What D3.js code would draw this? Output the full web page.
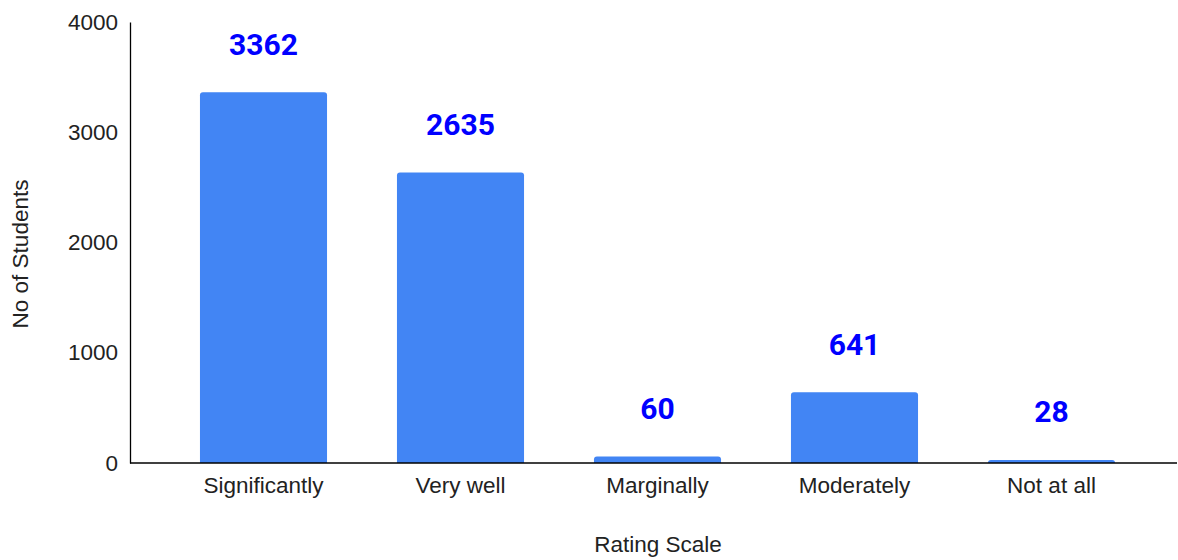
<!DOCTYPE html>
<html>
<head>
<meta charset="utf-8">
<script src="https://cdn.jsdelivr.net/npm/d3@7"></script>
<style>
  html, body { margin: 0; padding: 0; background: #fff; }
  svg { display: block; }
</style>
</head>
<body>
<svg id="chart" width="1178" height="560"></svg>
<script>
const categories = ["Significantly", "Very well", "Marginally", "Moderately", "Not at all"];
const values = [3362, 2635, 60, 641, 28];
const yTicks = [0, 1000, 2000, 3000, 4000];
const xTitle = "Rating Scale";
const yTitle = "No of Students";

const svg = d3.select("#chart");
const axisFont = "'Liberation Sans', Arial, sans-serif";
const axisSize = 22.5;

const x = d3.scaleBand().domain(categories).range([165, 1150])
  .paddingInner(0.355).paddingOuter(0.1775);
const y = d3.scaleLinear().domain([0, 4000]).range([463, 22]);

// bars with rounded top corners
const r = 3;
svg.append("g").selectAll("path").data(values).join("path")
  .attr("fill", "#4285F4")
  .attr("d", (d, i) => {
    const x0 = x(categories[i]), w = x.bandwidth();
    const yt = y(d), yb = y(0);
    const rr = Math.min(r, (yb - yt));
    return `M${x0},${yb} L${x0},${yt + rr} Q${x0},${yt} ${x0 + rr},${yt} L${x0 + w - rr},${yt} Q${x0 + w},${yt} ${x0 + w},${yt + rr} L${x0 + w},${yb} Z`;
  });

// value labels
svg.append("g").selectAll("text").data(values).join("text")
  .attr("x", (d, i) => x(categories[i]) + x.bandwidth() / 2)
  .attr("y", d => y(d) - 37.5)
  .attr("text-anchor", "middle")
  .attr("font-family", "Roboto, sans-serif")
  .attr("font-weight", "bold")
  .attr("font-size", 30)
  .attr("fill", "#0000ff")
  .text(d => d);

// y axis
const yAxis = svg.append("g").attr("transform", "translate(130,0)")
  .call(d3.axisLeft(y).tickValues(yTicks).tickFormat(d3.format("d")).tickSize(0).tickPadding(12));
yAxis.select(".domain").attr("stroke", "#000").attr("stroke-width", 1.3);
yAxis.selectAll("text").attr("font-family", axisFont).attr("font-size", axisSize).attr("fill", "#222");

// x axis
const xAxis = svg.append("g").attr("transform", "translate(0,463)")
  .call(d3.axisBottom(x).tickSize(0).tickPadding(14));
xAxis.select(".domain").remove();
xAxis.append("line").attr("x1", 130).attr("x2", 1177).attr("y1", 0).attr("y2", 0)
  .attr("stroke", "#000").attr("stroke-width", 1.5);
xAxis.selectAll("text").attr("font-family", axisFont).attr("font-size", axisSize).attr("fill", "#222");

// titles
svg.append("text").attr("x", 658).attr("y", 552).attr("text-anchor", "middle")
  .attr("font-family", axisFont).attr("font-size", axisSize).attr("fill", "#222").text(xTitle);
svg.append("text").attr("transform", "translate(28,254) rotate(-90)").attr("text-anchor", "middle")
  .attr("font-family", axisFont).attr("font-size", axisSize).attr("fill", "#222").text(yTitle);
</script>
</body>
</html>
